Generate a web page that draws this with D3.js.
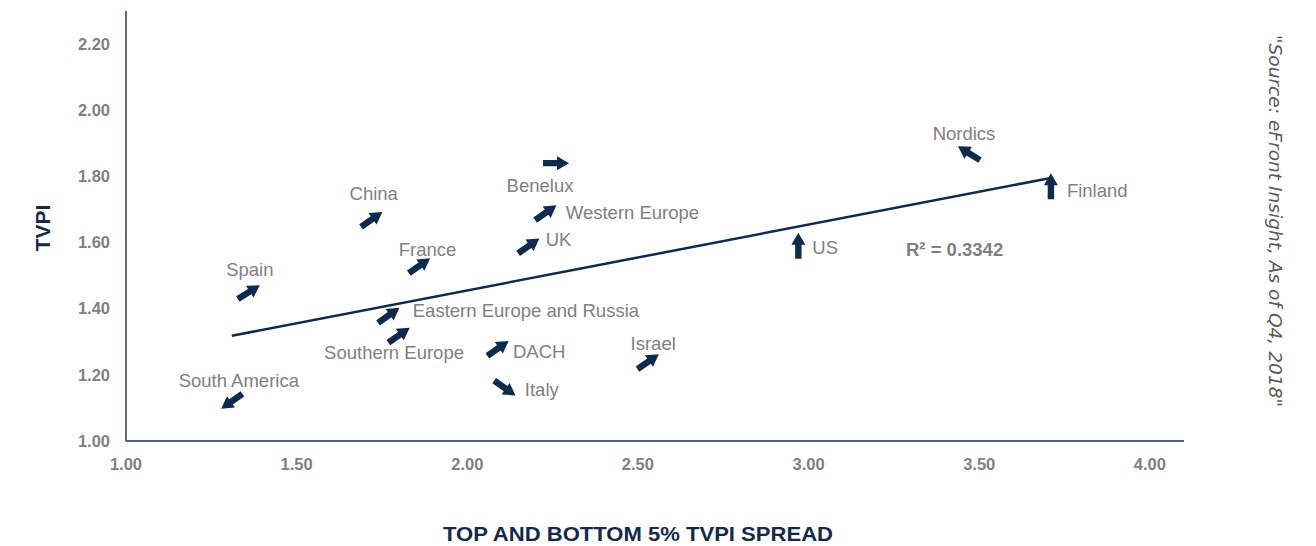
<!DOCTYPE html>
<html>
<head>
<meta charset="utf-8">
<script src="https://cdn.jsdelivr.net/npm/d3@7"></script>
<style>
  html, body { margin: 0; padding: 0; background: #fff; }
  svg { display: block; }
  .tick-label { font-family: "Liberation Sans", Arial, sans-serif; font-weight: bold; font-size: 16.5px; fill: #808080; }
  .pt-label { font-family: "Liberation Sans", Arial, sans-serif; font-size: 18.5px; fill: #808080; }
</style>
</head>
<body>
<svg id="chart" width="1316" height="546"></svg>
<script>
// regions plotted (name, spread, tvpi, arrow direction in degrees, 0 = east, ccw)
const regions = ['Spain', 'China', 'France', 'Benelux', 'Western Europe', 'UK',
  'Eastern Europe and Russia', 'Southern Europe', 'DACH', 'Italy', 'Israel',
  'South America', 'US', 'Finland', 'Nordics'];
const spread = [1.36, 1.72, 1.86, 2.26, 2.23, 2.18, 1.77, 1.80, 2.09, 2.11, 2.53, 1.31, 2.97, 3.71, 3.47];
const tvpi = [1.45, 1.67, 1.53, 1.84, 1.69, 1.59, 1.38, 1.32, 1.28, 1.16, 1.24, 1.12, 1.59, 1.77, 1.87];
const direction = [32, 35, 35, 0, 35, 35, 35, 35, 35, -35, 35, 215, 90, 90, 148];

const xTicks = [1.0, 1.5, 2.0, 2.5, 3.0, 3.5, 4.0];
const yTicks = [1.0, 1.2, 1.4, 1.6, 1.8, 2.0, 2.2];
const rSquaredText = 'R\u00b2 = 0.3342';

// label placement relative to the arrow centre
const labelPos = {
  'Spain': [1, -16, 'middle'],
  'China': [2, -19, 'middle'],
  'France': [8, -10, 'middle'],
  'Benelux': [-16, 29, 'middle'],
  'Western Europe': [20, 6, 'start'],
  'UK': [17, 0, 'start'],
  'Eastern Europe and Russia': [24, 2, 'start'],
  'Southern Europe': [-5, 24, 'middle'],
  'DACH': [15, 10, 'start'],
  'Italy': [20, 8, 'start'],
  'Israel': [5, -12, 'middle'],
  'South America': [7, -14, 'middle'],
  'US': [14, 8, 'start'],
  'Finland': [16, 11, 'start'],
  'Nordics': [-5, -13, 'middle']
};

const navy = '#0e2a4c';
const svg = d3.select('#chart');

const x = d3.scaleLinear().domain([1, 4.1]).range([126, 1184]);
const y = d3.scaleLinear().domain([1, 2.3]).range([441, 11]);

// axis lines
svg.append('line')
  .attr('x1', x(1)).attr('x2', x(1))
  .attr('y1', y(2.3)).attr('y2', y(1))
  .attr('stroke', '#5b6b8c').attr('stroke-width', 2);
svg.append('line')
  .attr('x1', x(1)).attr('x2', x(4.1))
  .attr('y1', y(1)).attr('y2', y(1))
  .attr('stroke', '#1b2f52').attr('stroke-width', 1.5);

// tick labels
svg.append('g').selectAll('text')
  .data(yTicks).enter().append('text')
  .attr('class', 'tick-label')
  .attr('x', x(1) - 16)
  .attr('y', d => y(d))
  .attr('dy', '0.35em')
  .attr('text-anchor', 'end')
  .text(d => d3.format('.2f')(d));

svg.append('g').selectAll('text')
  .data(xTicks).enter().append('text')
  .attr('class', 'tick-label')
  .attr('x', d => x(d))
  .attr('y', y(1) + 23)
  .attr('dy', '0.35em')
  .attr('text-anchor', 'middle')
  .text(d => d3.format('.2f')(d));

// axis titles
svg.append('text')
  .attr('transform', 'translate(50,228) rotate(-90)')
  .attr('text-anchor', 'middle')
  .style('font-family', '"Liberation Sans", Arial, sans-serif')
  .style('font-weight', 'bold')
  .style('font-size', '21px')
  .style('fill', '#15294a')
  .text('TVPI');

svg.append('text')
  .attr('x', 638).attr('y', 541)
  .attr('text-anchor', 'middle')
  .attr('textLength', 390)
  .attr('lengthAdjust', 'spacingAndGlyphs')
  .style('font-family', '"Liberation Sans Narrow", "Liberation Sans", Arial, sans-serif')
  .style('font-weight', 'bold')
  .style('font-size', '21px')
  .style('fill', '#15294a')
  .text('TOP AND BOTTOM 5% TVPI SPREAD');

// source note, rotated
svg.append('text')
  .attr('transform', 'translate(1269,221) rotate(90)')
  .attr('text-anchor', 'middle')
  .attr('textLength', 372)
  .attr('lengthAdjust', 'spacingAndGlyphs')
  .style('font-family', '"DejaVu Sans", sans-serif')
  .style('font-style', 'italic')
  .style('font-size', '17px')
  .style('fill', '#595959')
  .text('"Source: eFront Insight, As of Q4, 2018"');

// linear trend line from the points
const pts = regions.map((r, i) => ({ name: r, x: spread[i], y: tvpi[i], dir: direction[i] }));
const mx = d3.mean(pts, d => d.x);
const my = d3.mean(pts, d => d.y);
const slope = d3.sum(pts, d => (d.x - mx) * (d.y - my)) / d3.sum(pts, d => (d.x - mx) * (d.x - mx));
const icpt = my - slope * mx;
const [xmin, xmax] = d3.extent(pts, d => d.x);

svg.append('line')
  .attr('x1', x(xmin)).attr('y1', y(icpt + slope * xmin))
  .attr('x2', x(xmax)).attr('y2', y(icpt + slope * xmax))
  .attr('stroke', navy).attr('stroke-width', 2.5);

// arrow markers
const arrowShape = 'M-13,-3.2 L1,-3.2 L1,-7 L13,0 L1,7 L1,3.2 L-13,3.2 Z';

svg.append('g').selectAll('path')
  .data(pts).enter().append('path')
  .attr('d', arrowShape)
  .attr('fill', navy)
  .attr('transform', d => 'translate(' + x(d.x) + ',' + y(d.y) + ') rotate(' + (-d.dir) + ')');

svg.append('g').selectAll('text')
  .data(pts).enter().append('text')
  .attr('class', 'pt-label')
  .attr('x', d => x(d.x) + labelPos[d.name][0])
  .attr('y', d => y(d.y) + labelPos[d.name][1])
  .attr('text-anchor', d => labelPos[d.name][2])
  .text(d => d.name);

// r squared
svg.append('text')
  .attr('x', 906).attr('y', 256)
  .style('font-family', '"Liberation Sans", Arial, sans-serif')
  .style('font-weight', 'bold')
  .style('font-size', '18.5px')
  .style('fill', '#808080')
  .text(rSquaredText);
</script>
</body>
</html>
